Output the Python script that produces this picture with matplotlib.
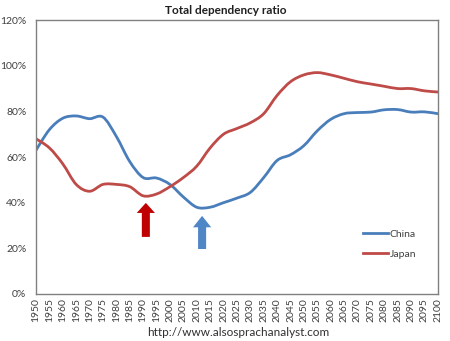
import numpy as np
import matplotlib
matplotlib.use("Agg")
import matplotlib.pyplot as plt
from matplotlib.path import Path
from matplotlib.patches import PathPatch, FancyArrow
from matplotlib.lines import Line2D
from matplotlib.ticker import PercentFormatter

# ── Data: total dependency ratio (%), 5-year steps ────────────────────────────

years = list(range(1950, 2101, 5))

china = [63, 72, 77, 78, 76.8, 77.5, 69, 58, 51, 50.8, 48, 42.5, 38, 38, 40, 42,
         44.5, 51, 58.5, 61, 65, 71.5, 76.5, 79, 79.5, 79.7, 80.7, 80.8, 79.7,
         79.8, 79]

japan = [68, 64, 57, 48, 45, 48, 48, 47, 43, 43.8, 47, 51, 56, 64, 70, 72.5,
         75, 79, 87, 93, 96, 97, 96, 94.5, 93, 92, 91, 90, 90, 89, 88.5]

# arrows marking the turning points: (year, tail %, tip %)
arrow_japan = (1991, 25.0, 39.9)
arrow_china = (2012, 19.7, 34.2)

BLUE = "#4A7EBB"
RED = "#BE4B48"

plt.rcParams["font.family"] = ["Lato", "DejaVu Sans"]


def smooth_path(xs, ys):
    """Excel-style smoothed line: Catmull-Rom segments as cubic Beziers."""
    pts = np.column_stack([xs, ys]).astype(float)
    ext = np.vstack([pts[0], pts, pts[-1]])
    verts = [pts[0]]
    codes = [Path.MOVETO]
    for i in range(1, len(ext) - 2):
        p0, p1, p2, p3 = ext[i - 1], ext[i], ext[i + 1], ext[i + 2]
        verts += [p1 + (p2 - p0) / 6, p2 - (p3 - p1) / 6, p2]
        codes += [Path.CURVE4] * 3
    return Path(verts, codes)


fig = plt.figure(figsize=(4.5, 3.41), dpi=100)
ax = fig.add_axes([0.08, 0.138, 0.893, 0.803])

for series, color in ((china, BLUE), (japan, RED)):
    ax.add_patch(PathPatch(smooth_path(years, series), fill=False,
                           edgecolor=color, lw=2.0, capstyle="round",
                           joinstyle="round"))

for (x, y0, y1), color, hl in ((arrow_japan, "#C00000", 4.4),
                               (arrow_china, "#4F86C6", 5.0)):
    ax.add_patch(FancyArrow(x, y0, 0, y1 - y0, width=3.0, head_width=6.8,
                            head_length=hl, length_includes_head=True,
                            facecolor=color, edgecolor="none"))

ax.set_xlim(1950, 2100)
ax.set_ylim(0, 120)
ax.set_xticks(years)
ax.set_xticklabels([str(y) for y in years], rotation=90, fontsize=7.5,
                   color="#404040")
ax.set_yticks(range(0, 121, 20))
ax.yaxis.set_major_formatter(PercentFormatter(decimals=0))
ax.tick_params(axis="y", labelsize=7.5, labelcolor="#404040", length=0, pad=7)
ax.tick_params(axis="x", length=0, pad=3)
for s in ax.spines.values():
    s.set_color("#808080")
    s.set_linewidth(1.0)

handles = [Line2D([], [], color=BLUE, lw=2.0),
           Line2D([], [], color=RED, lw=2.0)]
ax.legend(handles, ["China", "Japan"], loc="lower left",
          bbox_to_anchor=(0.79, 0.095), frameon=False, fontsize=7.5,
          handlelength=2.4, handletextpad=0.2, labelspacing=1.0,
          labelcolor="#404040")

fig.text(0.502, 0.97, "Total dependency ratio", ha="center", va="center",
         fontsize=8.5, fontweight="bold", color="#202020")
fig.text(0.53, 0.026, "http://www.alsosprachanalyst.com", ha="center",
         va="center", fontsize=8.5, color="#303030")

fig.savefig("out.png", dpi=100)
